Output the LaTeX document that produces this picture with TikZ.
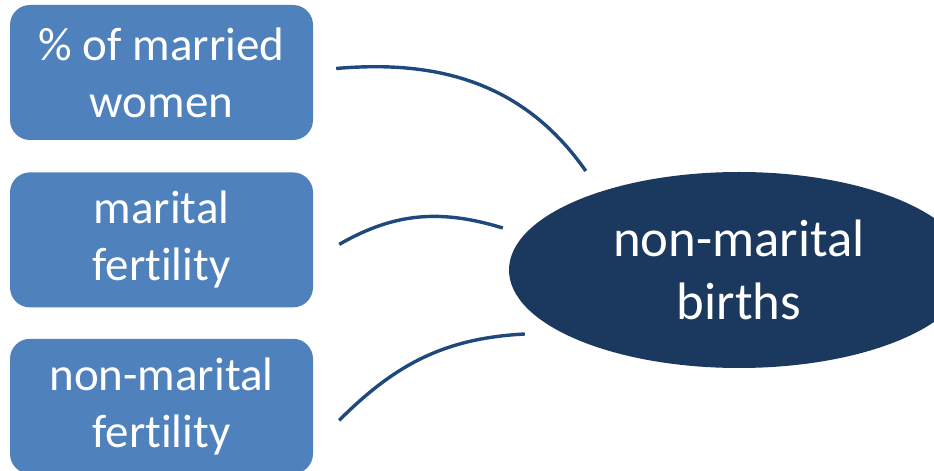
\documentclass[tikz,border=0pt]{standalone}
\usepackage{fontspec}
\setmainfont{Carlito}[Ligatures=CommonOff]
\usetikzlibrary{shapes.geometric, positioning}
\definecolor{BoxBlue}{HTML}{4F81BD}
\definecolor{DarkNavy}{HTML}{1B385E}
\definecolor{LinkBlue}{HTML}{1F497D}

\begin{document}
\begin{tikzpicture}[x=1pt, y=1pt,
                factor/.style={fill=BoxBlue, rounded corners=20pt, minimum width=303pt, minimum height=135pt, inner sep=0pt, text=white, align=center, font=\fontsize{47}{57}\selectfont},
                outcome/.style={ellipse, fill=DarkNavy, minimum width=460pt, minimum height=196pt, inner sep=0pt, text=white, align=center, font=\fontsize{52.7}{63}\selectfont},
                link/.style={LinkBlue, line width=3.4pt}
            ]

            \useasboundingbox (0,0) rectangle (934,471);

            \node[factor] (married) at (161.5,398.5) {\% of married\\women};
            \node[factor, below=32pt of married] (marfert) {marital\\fertility};
            \node[factor, below=31pt of marfert] (nonmarfert) {non-marital\\fertility};

            \node[outcome] (births) at (739,201) {non-marital\\births};

            \draw[link] ([shift={(23,4)}]married.east) to[out=5, in=125] ([shift={(77,99)}]births.west);
            \draw[link] ([shift={(26,-4.5)}]marfert.east) to[out=30, in=163] ([shift={(-6,42)}]births.west);
            \draw[link] ([shift={(26,-14)}]nonmarfert.east) to[out=45, in=183] ([shift={(16,-64)}]births.west);

        \end{tikzpicture}
\end{document}
